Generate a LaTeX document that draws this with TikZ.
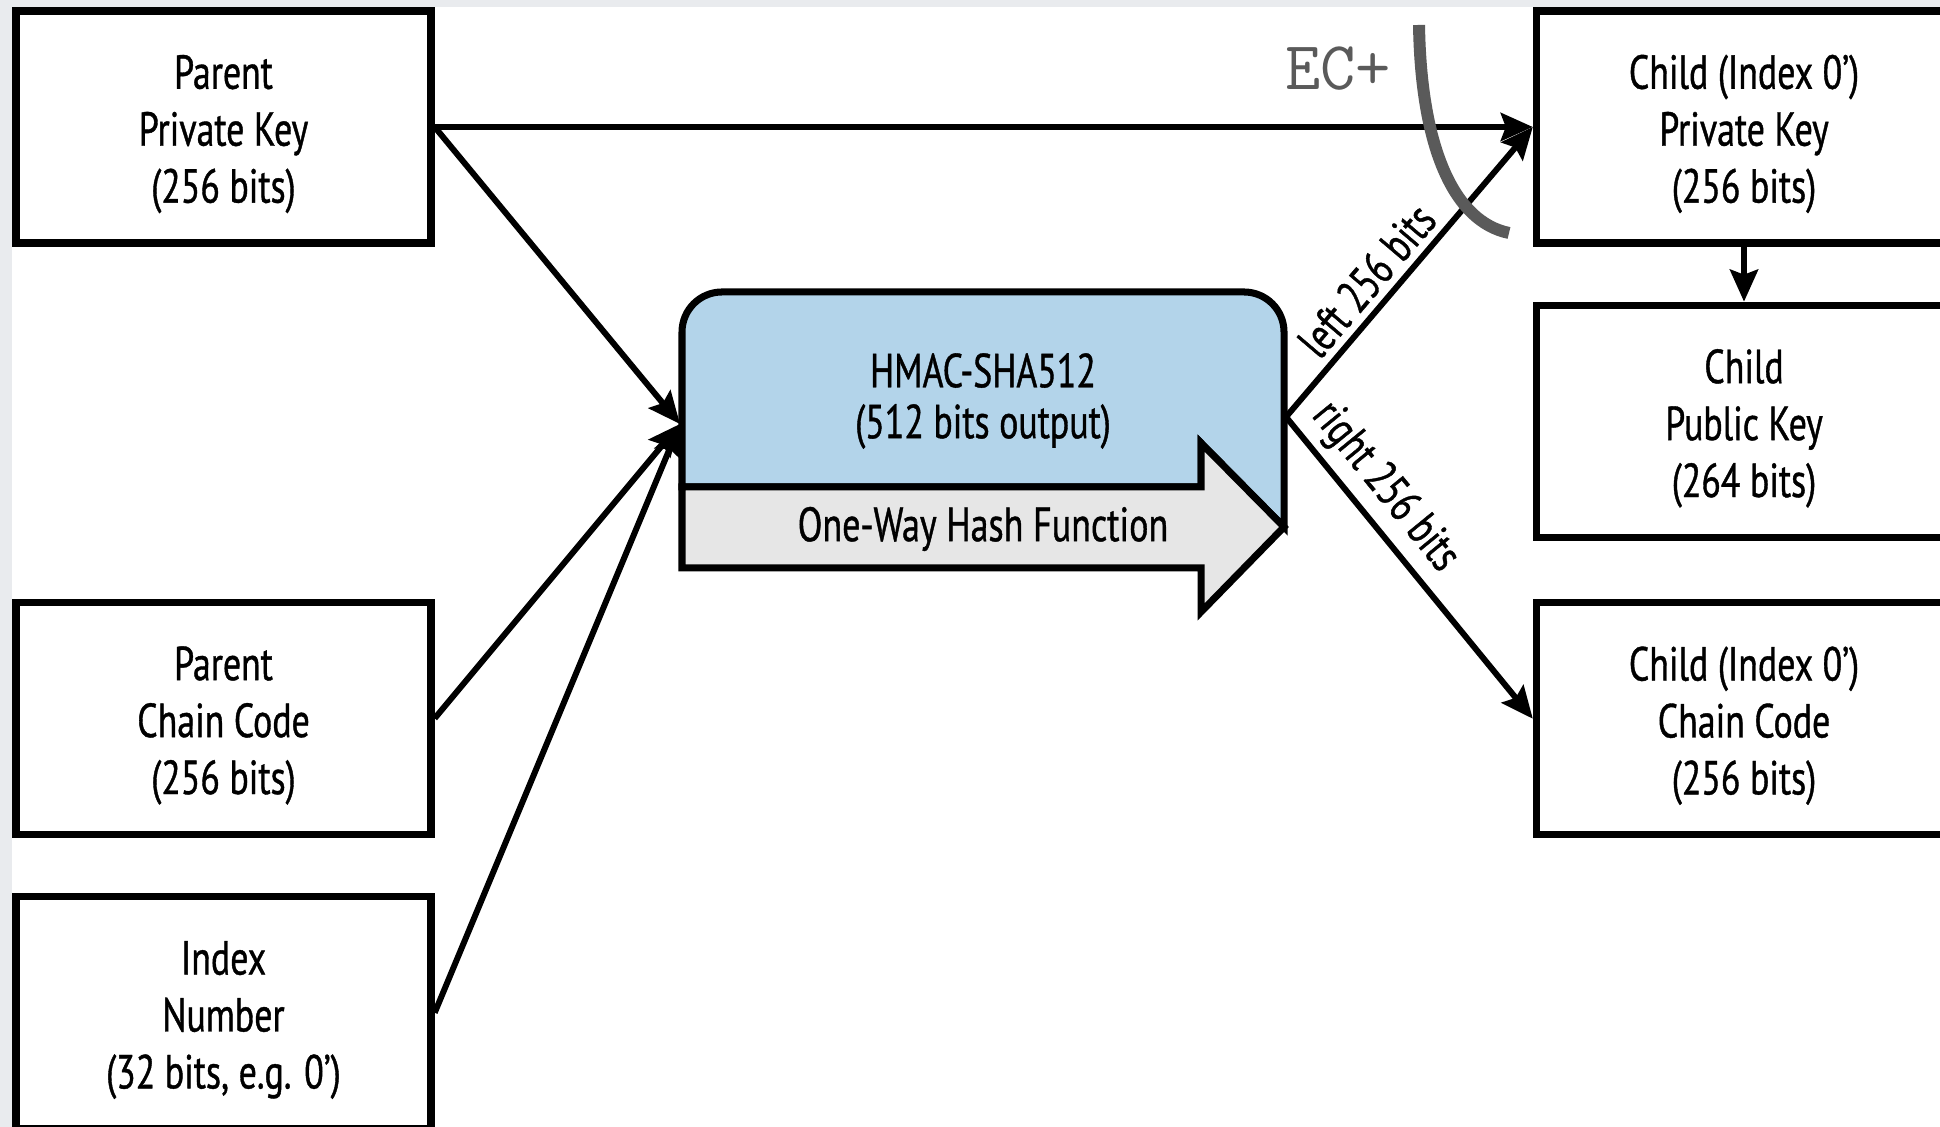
\documentclass[tikz,border=0pt]{standalone}
\usepackage{fontspec}
\setmainfont{PT Sans}[FakeStretch=0.75, FakeBold=0.8]
\usepackage{xcolor}
\usetikzlibrary{arrows.meta, positioning}
\definecolor{azulh}{HTML}{B3D4EA}
\definecolor{grish}{HTML}{E6E6E6}
\definecolor{fondo}{HTML}{E9EBEE}
\definecolor{trazo}{HTML}{5A5A5A}
\newcommand{\alto}{\rule{0pt}{0.48cm}}

\begin{document}
\begin{tikzpicture}[
    node distance=0.55cm and 0cm,
    caja/.style={rectangle, draw=black, line width=2.1pt, fill=white, minimum width=4.15cm, minimum height=2.32cm, align=center, inner sep=0pt, font=\fontsize{13.6}{16.2}\selectfont},
    flecha/.style={-{Stealth[length=0.32cm, width=0.28cm, inset=0.05cm]}, line width=1.7pt, black},
    rotulo/.style={sloped, above, inner sep=2pt, font=\fontsize{13.4}{15}\selectfont}
]
\useasboundingbox (0,0) rectangle (19.40,11.27);
\clip (0,0) rectangle (19.40,11.27);
\fill[fondo] (0,0) rectangle (19.40,11.27);
\fill[white] (0.12,0) rectangle (19.40,11.20);

\node (clavepadre) [caja] at (2.235,10.00) {\alto Parent\\Private Key\\(256 bits)};
\node (cadenapadre) [caja, below=3.52cm of clavepadre] {\alto Parent\\Chain Code\\(256 bits)};
\node (indice) [caja, below=of cadenapadre] {\alto Index\\Number\\(32 bits, e.g. 0’)};

\node (clavehijo) [caja] at (17.44,10.00) {\alto Child (Index 0’)\\Private Key\\(256 bits)};
\node (publicahijo) [caja, below=of clavehijo] {\alto Child\\Public Key\\(264 bits)};
\node (cadenahijo) [caja, below=0.58cm of publicahijo] {\alto Child (Index 0’)\\Chain Code\\(256 bits)};

\draw[line width=2pt, fill=azulh] (6.82,6.40) -- (6.82,7.95) arc[start angle=180, end angle=90, radius=0.4] -- (12.44,8.35) arc[start angle=90, end angle=0, radius=0.4] -- (12.84,6.00) -- (12.01,6.84) -- (12.01,6.40) -- cycle;
\draw[line width=2pt, fill=grish] (6.82,6.40) -- (12.01,6.40) -- (12.01,6.84) -- (12.84,6.00) -- (12.01,5.15) -- (12.01,5.59) -- (6.82,5.59) -- cycle;
\node (hmac) [align=center, font=\fontsize{13.6}{14.5}\selectfont] at (9.83,7.26) {HMAC-SHA512\\(512 bits output)};
\node (hash) [font=\fontsize{13.7}{15}\selectfont] at (9.83,5.98) {One-Way Hash Function};
\coordinate (entrada) at (6.80,7.03);
\coordinate (salida) at (12.86,7.10);

\draw [flecha] (clavepadre.east) -- (clavehijo.west);
\draw [flecha] (clavepadre.east) -- (entrada);
\draw [flecha] (cadenapadre.east) -- (entrada);
\draw [flecha] (indice.east) -- (entrada);
\draw [flecha] (salida) -- node[rotulo, pos=0.41] {left 256 bits} (clavehijo.west);
\draw [flecha] (salida) -- node[rotulo, pos=0.30] {right 256 bits} (cadenahijo.west);
\draw [flecha] (clavehijo) -- (publicahijo);

\node (ec) [text=trazo, font=\ttfamily\fontsize{19.5}{22}\selectfont] at (13.38,10.585) {EC+};
\draw [trazo, line width=0.12cm] (14.19,11.02) .. controls (14.21,9.77) and (14.55,9.05) .. (15.09,8.94);

\end{tikzpicture}
\end{document}
